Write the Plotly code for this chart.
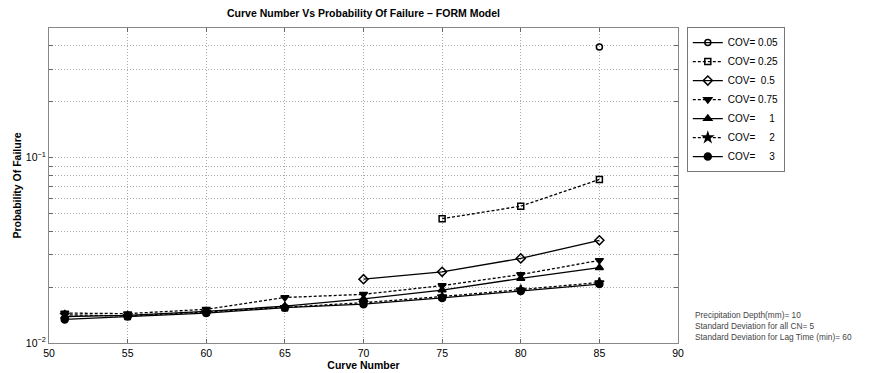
import plotly.graph_objects as go

curve_number = [51, 55, 60, 65, 70, 75, 80, 85]
cov_labels = ["COV= 0.05", "COV= 0.25", "COV=\u00a0\u00a00.5", "COV= 0.75",
              "COV=\u00a0\u00a0\u00a0\u00a0\u00a01", "COV=\u00a0\u00a0\u00a0\u00a0\u00a02", "COV=\u00a0\u00a0\u00a0\u00a0\u00a03"]
pf_cov_005 = [None, None, None, None, None, None, None, 0.395]
pf_cov_025 = [None, None, None, None, None, 0.0468, 0.0547, 0.0762]
pf_cov_05 = [None, None, None, None, 0.0221, 0.0242, 0.0286, 0.0358]
pf_cov_075 = [0.0145, 0.0144, 0.0152, 0.0176, 0.0183, 0.0204, 0.0234, 0.0279]
pf_cov_1 = [0.0139, 0.0141, 0.0148, 0.0158, 0.0173, 0.0193, 0.0223, 0.0255]
pf_cov_2 = [0.0142, 0.0140, 0.0147, 0.0156, 0.0165, 0.0178, 0.0194, 0.0212]
pf_cov_3 = [0.0134, 0.0139, 0.0145, 0.0155, 0.0162, 0.0175, 0.0191, 0.0208]

series = [pf_cov_005, pf_cov_025, pf_cov_05, pf_cov_075, pf_cov_1, pf_cov_2, pf_cov_3]
dashes = ["solid", "3px,2px", "solid", "3px,2px", "solid", "3px,2px", "solid"]
symbols = ["circle-open", "square-open", "diamond-open", "triangle-down", "triangle-up", "star", "circle"]
sizes = [6, 6, 7, 7, 7, 7, 7]

x_ticks = [50, 55, 60, 65, 70, 75, 80, 85, 90]
y_grid = [0.01, 0.02, 0.03, 0.04, 0.05, 0.06, 0.07, 0.08, 0.09, 0.1, 0.2, 0.3, 0.4]
y_text = ["10<sup>\u22122</sup>"] + [""] * 8 + ["10<sup>\u22121</sup>"] + [""] * 3

fig = go.Figure()
for name, vals, d, s, sz in zip(cov_labels, series, dashes, symbols, sizes):
    fig.add_trace(go.Scatter(
        x=curve_number, y=vals, name=name, mode="lines+markers",
        line=dict(color="black", width=1.3, dash=d),
        marker=dict(symbol=s, size=sz, color="black", line=dict(color="black", width=1.5)),
        connectgaps=False,
    ))

# page body has an 8px margin; figure is sized/offset to compensate
W, H = 868, 365
font = "Liberation Sans, Arial, sans-serif"
fig.update_layout(
    width=W, height=H,
    margin=dict(l=41, r=198, t=20, b=30),
    paper_bgcolor="white", plot_bgcolor="white",
    font=dict(family=font, size=10, color="black"),
    title=dict(text="<b>Curve Number Vs Probability Of Failure \u2013 FORM Model</b>",
               x=(41 + 670) / 2 / W, xanchor="center", y=1 - 5 / H, yanchor="middle",
               font=dict(size=10.5), automargin=False),
    legend=dict(x=1.014, y=1.003, xanchor="left", yanchor="top",
                bordercolor="#777", borderwidth=1, bgcolor="white",
                font=dict(size=10), tracegroupgap=0, itemwidth=30),
    showlegend=True,
)
fig.update_xaxes(
    range=[50, 90], tickvals=x_ticks, ticks="inside", ticklen=4, tickcolor="#666",
    showline=True, linecolor="#888", linewidth=1, mirror="ticks",
    showgrid=True, gridcolor="#aaa", griddash="1px,2px", gridwidth=1, zeroline=False,
    title=dict(text="<b>Curve Number</b>", font=dict(size=10.5), standoff=1),
    tickfont=dict(size=10.5), automargin=False,
)
fig.update_yaxes(
    type="log", range=[-2, -0.301], tickvals=y_grid, ticktext=y_text,
    ticks="inside", ticklen=4, tickcolor="#666",
    showline=True, linecolor="#888", linewidth=1, mirror="ticks",
    showgrid=True, gridcolor="#aaa", griddash="1px,2px", gridwidth=1, zeroline=False,
    title=dict(text="<b>Probability Of Failure</b>", font=dict(size=10.5), standoff=2),
    tickfont=dict(size=10.5), automargin=False,
)
notes = ["Precipitation Depth(mm)= 10", "Standard Deviation for all CN= 5",
         "Standard Deviation for Lag Time (min)= 60"]
for i, t in enumerate(notes):
    fig.add_annotation(text=t, xref="paper", yref="paper", x=1.024, y=(343 - 315 - i * 10.8) / 315,
                       xanchor="left", yanchor="middle", showarrow=False,
                       font=dict(size=8.3, color="#444"))

fig.write_html("out.html")
